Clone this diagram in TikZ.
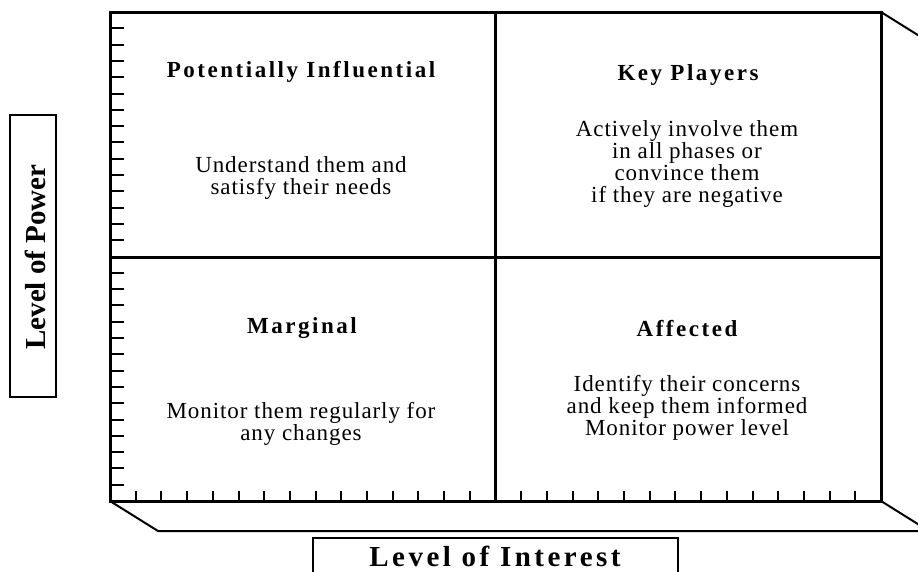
\documentclass[tikz,border=0pt]{standalone}
\usepackage{fontspec}
\setmainfont{Liberation Serif}
\newfontfamily\headfont[LetterSpace=11]{Liberation Serif}
\newfontfamily\bodyfont[LetterSpace=4]{Liberation Serif}
\newfontfamily\axisfont[LetterSpace=12]{Liberation Serif}
\usetikzlibrary{calc}
\tikzset{
    frame/.style = {
        line width=3pt,
        },
    depth/.style = {
        line width=2pt,
        },
    tick/.style = {
        line width=2pt,
        },
    heading/.style = {
        anchor=base,
        font=\headfont\bfseries\fontsize{23}{22}\selectfont,
        },
    advice/.style = {
        anchor=base,
        align=center,
        font=\bodyfont\fontsize{23}{22}\selectfont,
        },
    axis box/.style = {
        draw,
        line width=2.5pt,
        },
    axis label/.style = {
        anchor=base,
        font=\axisfont\bfseries\fontsize{29}{30}\selectfont,
        },
}
\begin{document}
\begin{tikzpicture}[x=1pt, y=-1pt]
            \useasboundingbox (0,0) rectangle (918,571);
            \clip (0,0) rectangle (918,571);

            % corners of the grid
            \coordinate (tl) at (110,12);
            \coordinate (tr) at (881,12);
            \coordinate (br) at (881,501);
            \coordinate (bl) at (110,501);
            \coordinate (tm) at (495,12);
            \coordinate (bm) at (495,501);
            \coordinate (lm) at (110,257);
            \coordinate (rm) at (881,257);
            % back edges
            \coordinate (blb) at ($(bl)+(48,30)$);
            \coordinate (brb) at ($(br)+(48,30)$);
            \coordinate (trb) at ($(tr)+(48,30)$);

            \draw[depth] (bl) -- (blb) -- (brb);
            \draw[depth] (br) -- (brb);
            \draw[depth] (tr) -- (trb);

            % ticks
            \foreach \i in {1,...,29}
                \draw[tick] ($(tl)+(0,\i*16.3)$) -- ++(14,0);
            \foreach \i in {1,...,29}
                \draw[tick] ($(bl)+(\i*25.7,0)$) -- ++(0,-10);

            \draw[frame] (tl) rectangle (br);
            \draw[frame] (tm) -- (bm);
            \draw[frame] (lm) -- (rm);

            \node[heading] (potential) at (301,77) {Potentially Influential};
            \node[heading] (key) at (688,80) {Key Players};
            \node[heading] (marginal) at (302,333) {Marginal};
            \node[heading] (affected) at (687,336) {Affected};

            % base = last line
            \node[advice] (potential text) at (301,194) {Understand them and\\satisfy their needs};
            \node[advice] (key text) at (687,202) {Actively involve them\\in all phases or\\convince them\\if they are negative};
            \node[advice] (marginal text) at (301,440) {Monitor them regularly for\\any changes};
            \node[advice] (affected text) at (687,435) {Identify their concerns\\and keep them informed\\Monitor power level};

            \draw[axis box] (313,538) rectangle (678,590);
            \node[axis label] (interest) at (495,566) {Level of Interest};
            \draw[axis box] (10,115) rectangle (56,397);
            \node[axis label, font=\bfseries\fontsize{29}{30}\selectfont, rotate=90] (power) at (45,257) {Level of Power};
        \end{tikzpicture}
\end{document}
